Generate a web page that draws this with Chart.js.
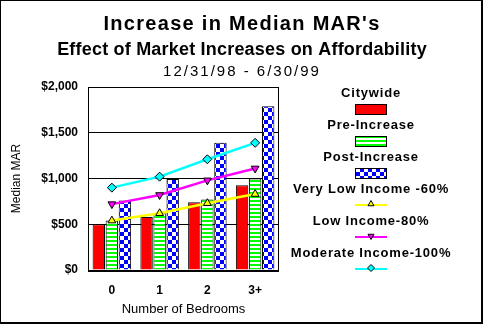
<!DOCTYPE html>
<html>
<head>
<meta charset="utf-8">
<script src="https://cdn.jsdelivr.net/npm/chart.js@4"></script>
<style>
  html, body { margin: 0; padding: 0; background: #fff; }
  canvas { display: block; }
</style>
</head>
<body>
<canvas id="marChart" width="484" height="325"></canvas>
<script>
// --- data ---
const bedrooms = ['0', '1', '2', '3+'];
const citywide = [500, 580, 740, 925];
const preIncrease = [540, 620, 770, 1000];
const postIncrease = [760, 995, 1390, 1790];
const veryLow60 = [540, 620, 730, 830];
const low80 = [720, 820, 980, 1110];
const moderate100 = [900, 1020, 1210, 1390];
const yTickLabels = ['$0', '$500', '$1,000', '$1,500', '$2,000'];
const titleLines = ["Increase in Median MAR's", 'Effect of Market Increases on Affordability', '12/31/98 - 6/30/99'];

// fill patterns like the old spreadsheet chart
function stripes() {
    const c = document.createElement('canvas');
    c.width = 4; c.height = 4;
    const g = c.getContext('2d');
    g.fillStyle = '#fff'; g.fillRect(0, 0, 4, 4);
    g.fillStyle = '#00ff00'; g.fillRect(0, 0, 4, 2);
    return g.createPattern(c, 'repeat');
}
function checker() {
    const c = document.createElement('canvas');
    c.width = 8; c.height = 8;
    const g = c.getContext('2d');
    g.fillStyle = '#fff'; g.fillRect(0, 0, 8, 8);
    g.fillStyle = '#0000ff'; g.fillRect(0, 0, 4, 4); g.fillRect(4, 4, 4, 4);
    return g.createPattern(c, 'repeat');
}

// three title lines with different fonts
const header = {
    id: 'header',
    afterDraw(chart) {
        const ctx = chart.ctx;
        ctx.save();
        ctx.fillStyle = '#000';
        ctx.textAlign = 'center';
        ctx.textBaseline = 'alphabetic';
        ctx.font = 'bold 20px Arial';
        ctx.letterSpacing = '1.3px';
        ctx.fillText(titleLines[0], 242, 30);
        ctx.font = 'bold 18px Arial';
        ctx.letterSpacing = '0.2px';
        ctx.fillText(titleLines[1], 242, 55);
        ctx.font = '15px Arial';
        ctx.letterSpacing = '2px';
        ctx.fillText(titleLines[2], 242, 76);
        ctx.restore();
    }
};

// box round the plot and frame round the picture
const frames = {
    id: 'frames',
    beforeDatasetsDraw(chart) {
        const a = chart.chartArea, ctx = chart.ctx;
        ctx.save();
        ctx.strokeStyle = '#000';
        ctx.lineWidth = 1;
        ctx.strokeRect(a.left + 0.5, a.top + 0.5, a.right - a.left - 1, a.bottom - a.top);
        ctx.restore();
    },
    afterDraw(chart) {
        const a = chart.chartArea, ctx = chart.ctx;
        ctx.save();
        ctx.fillStyle = '#000';
        ctx.fillRect(a.left, a.bottom, a.right - a.left, 2);
        ctx.fillRect(0, 0, 483, 1);
        ctx.fillRect(0, 0, 1, 324);
        ctx.fillRect(481, 0, 2, 324);
        ctx.fillRect(0, 322, 483, 2);
        ctx.restore();
    }
};

// legend on the right: label above, symbol below
const sideLegend = {
    id: 'sideLegend',
    afterDraw(chart) {
        const ctx = chart.ctx;
        const cx = 371;
        let y = 93;
        ctx.save();
        chart.data.datasets.forEach(ds => {
            ctx.font = 'bold 13px Arial';
            ctx.letterSpacing = '0.8px';
            ctx.fillStyle = '#000';
            ctx.textAlign = 'center';
            ctx.textBaseline = 'middle';
            ctx.fillText(ds.label, cx, y);
            if (ds.type === 'line') {
                ctx.strokeStyle = ds.borderColor;
                ctx.lineWidth = 2;
                ctx.beginPath();
                ctx.moveTo(cx - 16, y + 16);
                ctx.lineTo(cx + 16, y + 16);
                ctx.stroke();
                ctx.fillStyle = ds.pointBackgroundColor;
                ctx.strokeStyle = '#000';
                ctx.lineWidth = 1;
                Chart.helpers.drawPoint(ctx, {
                    pointStyle: ds.pointStyle, rotation: ds.pointRotation || 0,
                    radius: 3.5, borderWidth: 1
                }, cx, y + 15);
            } else {
                ctx.fillStyle = ds.backgroundColor;
                ctx.fillRect(cx - 16, y + 11, 32, 10);
                ctx.strokeStyle = '#000';
                ctx.lineWidth = 1;
                ctx.strokeRect(cx - 15.5, y + 11.5, 31, 10);
            }
            y += 32;
        });
        ctx.restore();
    }
};

const barBase = { type: 'bar', borderColor: '#000', borderWidth: 1, order: 1,
                  categoryPercentage: 0.82, barPercentage: 0.95 };
const lineBase = { type: 'line', borderWidth: 2.5, pointRadius: 4.5, pointBorderColor: '#000',
                   pointBorderWidth: 1, order: 0, tension: 0 };

new Chart(document.getElementById('marChart'), {
    data: {
        labels: bedrooms,
        datasets: [
            { ...barBase, label: 'Citywide', data: citywide, backgroundColor: '#ff0000' },
            { ...barBase, label: 'Pre-Increase', data: preIncrease, backgroundColor: stripes() },
            { ...barBase, label: 'Post-Increase', data: postIncrease, backgroundColor: checker() },
            { ...lineBase, label: 'Very Low Income -60%', data: veryLow60, borderColor: '#ffff00',
              pointBackgroundColor: '#ffff00', pointStyle: 'triangle' },
            { ...lineBase, label: 'Low Income-80%', data: low80, borderColor: '#ff00ff',
              pointBackgroundColor: '#ff00ff', pointStyle: 'triangle', pointRotation: 180 },
            { ...lineBase, label: 'Moderate Income-100%', data: moderate100, borderColor: '#00ffff',
              pointBackgroundColor: '#00ffff', pointStyle: 'rectRot' }
        ]
    },
    options: {
        responsive: false,
        animation: false,
        layout: { padding: { top: 87, right: 205, left: 0, bottom: 0 } },
        plugins: { legend: { display: false }, title: { display: false }, tooltip: { enabled: false } },
        scales: {
            x: {
                grid: { display: false, drawTicks: false },
                border: { display: false },
                ticks: { color: '#000', padding: 13, font: { family: 'Arial', size: 12, weight: 'bold' } },
                title: { display: true, text: 'Number of Bedrooms', color: '#000',
                         font: { family: 'Arial', size: 13 }, padding: { top: 4, bottom: 8 } },
                afterFit: s => { s.height = 55; }
            },
            y: {
                min: 0, max: 2000,
                grid: { color: '#000', drawTicks: false },
                border: { display: false },
                ticks: { stepSize: 500, color: '#000', padding: 10,
                         font: { family: 'Arial', size: 12, weight: 'bold' },
                         callback: (v, i) => yTickLabels[i] },
                title: { display: true, text: 'Median MAR', color: '#000',
                         font: { family: 'Arial', size: 12 }, padding: { top: 9, bottom: 0 } },
                afterFit: s => { s.width = 88; }
            }
        }
    },
    plugins: [header, frames, sideLegend]
});
</script>
</body>
</html>
